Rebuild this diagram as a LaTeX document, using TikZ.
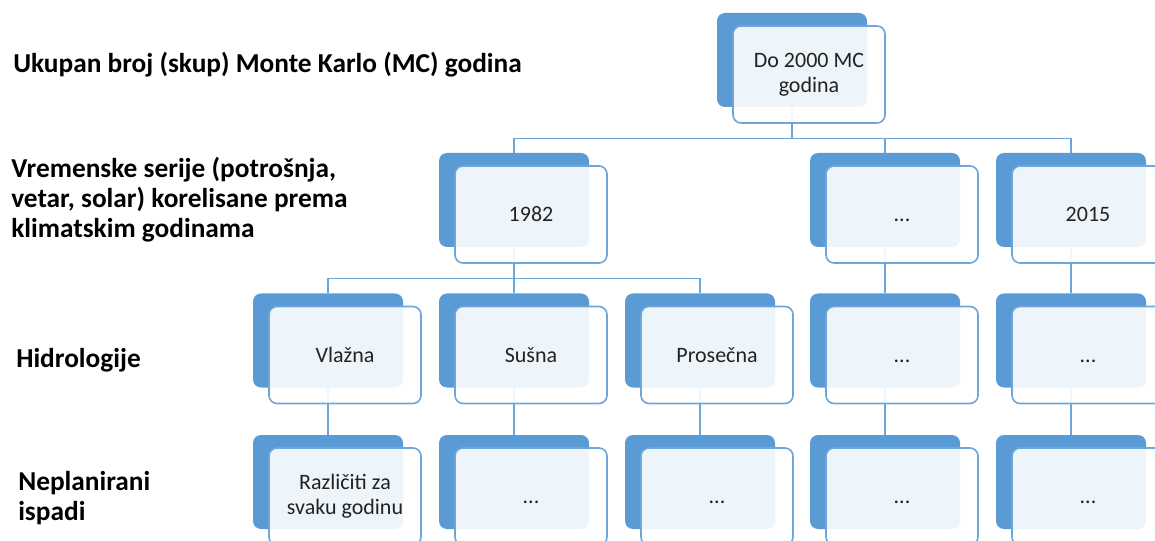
\documentclass[tikz,border=0pt]{standalone}
\usepackage{fontspec}
\setmainfont{Carlito}
\usetikzlibrary{backgrounds}
\definecolor{mcblue}{HTML}{5B9BD5}
\definecolor{mcline}{HTML}{6FA6DA}
\definecolor{ink}{HTML}{222222}
\tikzset{px/.style={x=.75pt,y=-.75pt},
  back/.style={fill=mcblue,rounded corners=6pt,minimum width=112.5pt,minimum height=70.5pt,inner sep=0pt},
  front/.style={draw=mcline,line width=1.2pt,fill=white,fill opacity=.9,text opacity=1,rounded corners=6pt,minimum width=114pt,minimum height=72.75pt,inner sep=0pt,align=center,text=ink,font=\fontsize{16.5}{18.75}\selectfont},
  link/.style={draw=mcline,line width=1.1pt},
  lbl/.style={anchor=base west,align=left,inner sep=0pt,font=\bfseries\fontsize{20.5}{22.5}\selectfont}}
\newcommand\mcbox[4]{\node[back] (#1) at (#2,#3) {};\node[front] (#1f) at ([shift={(17,14.5)}]#1) {#4};}
\newcommand\mcdots{\vphantom{0}...}

\begin{document}
\begin{tikzpicture}[px]
  \useasboundingbox (0,0) rectangle (1155,541);
  \clip (0,0) rectangle (1155,541);
  % row labels (base = last line)
  \node[lbl] (lmc) at (13,73) {Ukupan broj (skup) Monte Karlo (MC) godina};
  \node[lbl] (lts) at (11,238) {Vremenske serije (potrošnja,\\vetar, solar) korelisane prema\\klimatskim godinama};
  \node[lbl] (lhy) at (16,367) {Hidrologije};
  \node[lbl] (lout) at (18,520) {Neplanirani\\ispadi};
  % boxes
  \mcbox{mc}{792}{60}{Do 2000 MC\\godina}
  \foreach \n/\x/\t in {y1982/514/1982,ydots/885/\mcdots,y2015/1071/2015}{\mcbox{\n}{\x}{200}{\t}}
  \foreach \n/\x/\t in {h1/328/Vlažna,h2/514/Sušna,h3/700/Prosečna,h4/885/\mcdots,h5/1071/\mcdots}{\mcbox{\n}{\x}{340.5}{\t}}
  \foreach \n/\x/\t in {o1/328/{Različiti za\\svaku godinu},o2/514/\mcdots,o3/700/\mcdots,o4/885/\mcdots,o5/1071/\mcdots}{\mcbox{\n}{\x}{482}{\t}}
  % connectors
  \begin{scope}[on background layer]
    \foreach \c in {y1982,ydots,y2015}{\draw[link] (mc.south) -- ++(0,31) -| (\c.north);}
    \foreach \c in {h1,h2,h3}{\draw[link] (y1982.south) -- ++(0,31) -| (\c.north);}
    \draw[link] (ydots.south) -- (h4.north);
    \draw[link] (y2015.south) -- (h5.north);
    \foreach \i in {1,...,5}{\draw[link] (h\i.south) -- (o\i.north);}
  \end{scope}
\end{tikzpicture}
\end{document}
